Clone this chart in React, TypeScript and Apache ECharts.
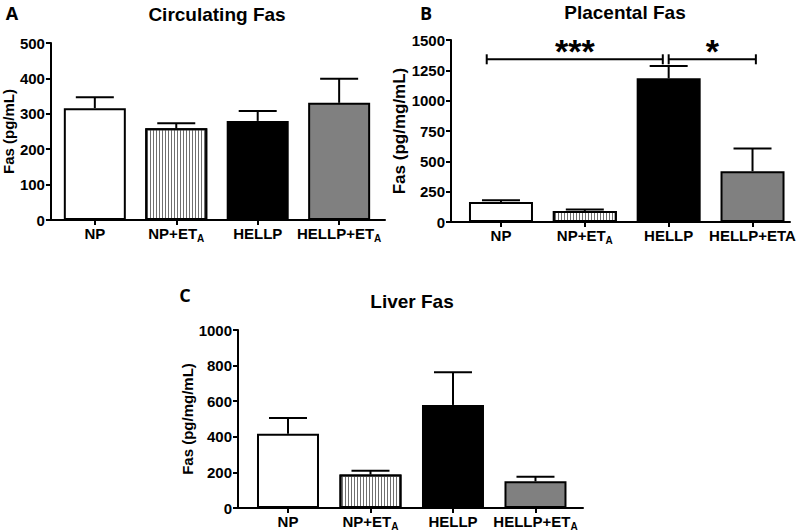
import React, { useEffect, useRef } from "react";
import * as echarts from "echarts";

// ---------- data ----------
const catPositions = [0, 1, 2, 3];
const labelsA = ["NP", "NP+ET{s|A}", "HELLP", "HELLP+ET{s|A}"];
const labelsB = ["NP", "NP+ET{s|A}", "HELLP", "HELLP+ETA"];
const labelsC = ["NP", "NP+ET{s|A}", "HELLP", "HELLP+ET{s|A}"];

const circMean = [316, 259, 280, 331];
const circUpper = [347, 273, 308, 399];

const placMean = [165, 91, 1184, 419];
const placUpper = [179, 102, 1285, 606];

const liverMean = [417, 188, 579, 150];
const liverUpper = [505, 209, 763, 176];

// significance brackets in panel B: [start category, end category, height]
const sigStart = [-0.17, 2.0];
const sigEnd = [1.93, 3.04];
const sigLevel = [1341, 1341];
const sigText = ["***", "*"];

const titles = ["Circulating Fas", "Placental Fas", "Liver Fas"];
const panelLetters = ["A", "B", "C"];
const yNames = ["Fas (pg/mL)", "Fas (pg/mg/mL)", "Fas (pg/mg/mL)"];

// ---------- styles ----------
const FONT = "Liberation Sans";
const fills = ["#ffffff", "#ffffff", "#000000", "#808080"];
const stripeDecal = {
  symbol: "rect",
  symbolSize: 1,
  color: "#6f6f6f",
  dashArrayX: [1, 2],
  dashArrayY: [4, 0],
  rotation: 0,
};

function barData(values: number[]) {
  return values.map((v, i) => ({
    value: [catPositions[i], v],
    itemStyle: {
      color: fills[i],
      borderColor: "#000",
      borderWidth: 2,
      ...(i === 1 ? { decal: stripeDecal } : {}),
    },
  }));
}

function errData(mean: number[], upper: number[]) {
  return mean.map((m, i) => [catPositions[i], m, upper[i]]);
}

const errRender = (params: any, api: any) => {
  const x = api.value(0);
  const p0 = api.coord([x, api.value(1)]);
  const p1 = api.coord([x, api.value(2)]);
  const st = { stroke: "#000", lineWidth: 2 };
  return {
    type: "group",
    children: [
      { type: "line", shape: { x1: p0[0], y1: p0[1], x2: p1[0], y2: p1[1] }, style: st },
      { type: "line", shape: { x1: p1[0] - 19, y1: p1[1], x2: p1[0] + 19, y2: p1[1] }, style: st },
    ],
  };
};

const sigRender = (params: any, api: any) => {
  const a = api.coord([api.value(0), api.value(2)]);
  const b = api.coord([api.value(1), api.value(2)]);
  const st = { stroke: "#000", lineWidth: 2 };
  return {
    type: "group",
    children: [
      { type: "line", shape: { x1: a[0], y1: a[1], x2: b[0], y2: b[1] }, style: st },
      { type: "line", shape: { x1: a[0], y1: a[1] - 5, x2: a[0], y2: a[1] + 5 }, style: st },
      { type: "line", shape: { x1: b[0], y1: b[1] - 5, x2: b[0], y2: b[1] + 5 }, style: st },
      {
        type: "text",
        x: (a[0] + b[0]) / 2,
        y: a[1] + 9,
        style: {
          text: sigText[params.dataIndex],
          fontFamily: FONT,
          fontWeight: "bold",
          fontSize: 34,
          fill: "#000",
          align: "center",
          verticalAlign: "bottom",
        },
      },
    ],
  };
};

function xAxisFor(gridIndex: number, min: number, max: number, labels: string[]) {
  return {
    type: "value",
    gridIndex,
    min,
    max,
    axisLine: { show: true, onZero: false, lineStyle: { color: "#000", width: 2 } },
    axisTick: { show: true, customValues: catPositions, length: 5, lineStyle: { color: "#000", width: 2 } },
    axisLabel: {
      show: true,
      customValues: catPositions,
      formatter: (v: number) => labels[Math.round(v)],
      color: "#000",
      fontFamily: FONT,
      fontWeight: "bold",
      fontSize: 15,
      lineHeight: 20,
      margin: 3,
      rich: {
        s: {
          fontFamily: FONT,
          fontWeight: "bold",
          fontSize: 10,
          color: "#000",
          verticalAlign: "bottom",
          lineHeight: 10,
          padding: [10, 0, 0, 0],
        },
      },
    },
    splitLine: { show: false },
  };
}

function yAxisFor(gridIndex: number, max: number, interval: number, name: string, nameGap: number, nameSize: number) {
  return {
    type: "value",
    gridIndex,
    min: 0,
    max,
    interval,
    name,
    nameLocation: "middle",
    nameRotate: 90,
    nameGap,
    nameTextStyle: { color: "#000", fontFamily: FONT, fontWeight: "bold", fontSize: nameSize },
    axisLine: { show: true, onZero: false, lineStyle: { color: "#000", width: 2 } },
    axisTick: { show: true, length: 5, lineStyle: { color: "#000", width: 2 } },
    axisLabel: {
      color: "#000",
      fontFamily: FONT,
      fontWeight: "bold",
      fontSize: 15,
      margin: 6,
      formatter: (v: number) => String(v),
    },
    splitLine: { show: false },
  };
}

function textEl(text: string, x: number, y: number, size: number, family: string) {
  return {
    type: "text",
    x,
    y,
    style: {
      text,
      fontFamily: family,
      fontWeight: "bold",
      fontSize: size,
      fill: "#000",
      align: "center",
      verticalAlign: "middle",
    },
  };
}

export default function App() {
  const ref = useRef<HTMLDivElement>(null);
  useEffect(() => {
    if (!ref.current) return;
    const chart = echarts.init(ref.current, null, { renderer: "svg" });
    chart.setOption({
      animation: false,
      backgroundColor: "#ffffff",
      grid: [
        { left: 50, top: 43, width: 335, height: 177 },
        { left: 451, top: 40, width: 339, height: 182 },
        { left: 238, top: 330, width: 345, height: 178 },
      ],
      xAxis: [
        xAxisFor(0, -0.539, 3.563, labelsA),
        xAxisFor(1, -0.596, 3.447, labelsB),
        xAxisFor(2, -0.606, 3.576, labelsC),
      ],
      yAxis: [
        yAxisFor(0, 500, 100, yNames[0], 30, 15),
        yAxisFor(1, 1500, 250, yNames[1], 40, 17),
        yAxisFor(2, 1000, 200, yNames[2], 38, 15),
      ],
      series: [
        { type: "bar", xAxisIndex: 0, yAxisIndex: 0, barWidth: 62, data: barData(circMean) },
        { type: "bar", xAxisIndex: 1, yAxisIndex: 1, barWidth: 64, data: barData(placMean) },
        { type: "bar", xAxisIndex: 2, yAxisIndex: 2, barWidth: 62, data: barData(liverMean) },
        { type: "custom", xAxisIndex: 0, yAxisIndex: 0, renderItem: errRender, data: errData(circMean, circUpper), z: 3 },
        { type: "custom", xAxisIndex: 1, yAxisIndex: 1, renderItem: errRender, data: errData(placMean, placUpper), z: 3 },
        { type: "custom", xAxisIndex: 2, yAxisIndex: 2, renderItem: errRender, data: errData(liverMean, liverUpper), z: 3 },
        {
          type: "custom",
          xAxisIndex: 1,
          yAxisIndex: 1,
          renderItem: sigRender,
          clip: false,
          data: sigStart.map((s, i) => [s, sigEnd[i], sigLevel[i]]),
          z: 4,
        },
      ],
      graphic: [
        textEl(titles[0], 217, 14, 19, FONT),
        textEl(titles[1], 625, 12, 19, FONT),
        textEl(titles[2], 412, 301, 19, FONT),
        textEl(panelLetters[0], 12, 13, 18, "Open Sans"),
        textEl(panelLetters[1], 426, 13, 18, "Open Sans"),
        textEl(panelLetters[2], 185, 295, 18, "Open Sans"),
      ],
    });
    return () => chart.dispose();
  }, []);
  return (
    <div
      ref={ref}
      style={{ position: "fixed", left: 0, top: 0, width: 800, height: 532, background: "#fff" }}
    />
  );
}
